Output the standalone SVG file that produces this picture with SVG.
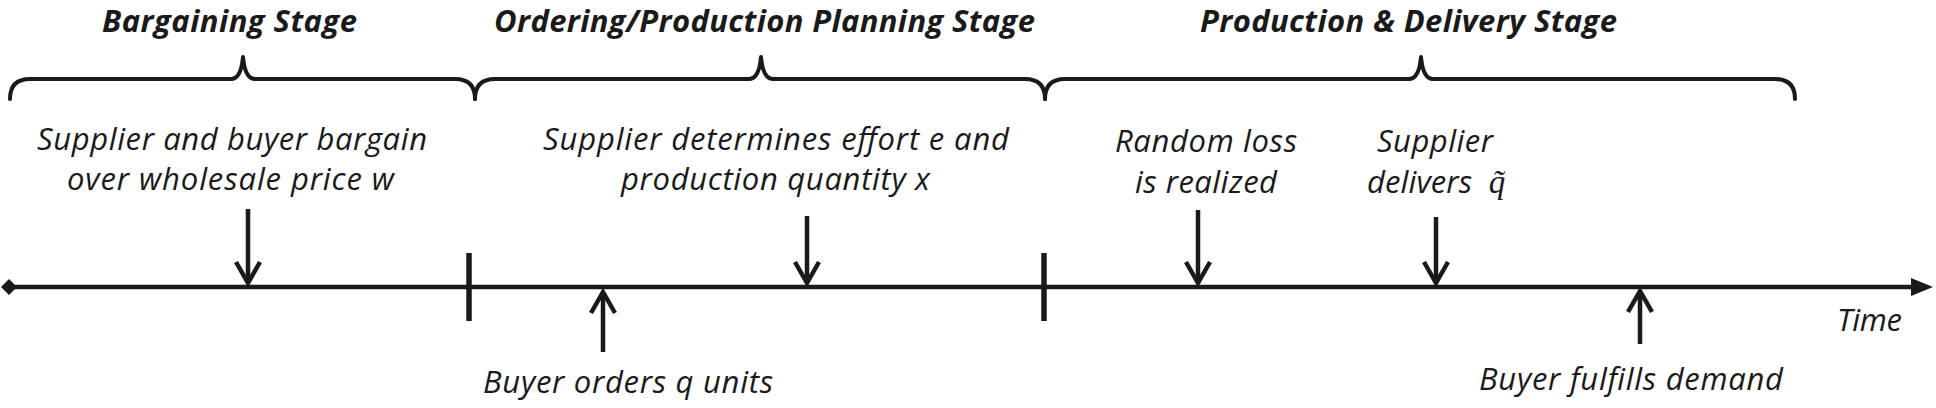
<svg xmlns="http://www.w3.org/2000/svg" width="1936" height="408" viewBox="0 0 1936 408">
<defs>
<style>
.t{font-family:"Open Sans",Lato,"Liberation Sans",sans-serif;font-style:italic;font-size:31px;fill:#1a1a1a}
.h{font-family:"Open Sans",Lato,"Liberation Sans",sans-serif;font-style:italic;font-weight:bold;font-size:31px;fill:#1a1a1a}
.br{fill:none;stroke:#1a1a1a;stroke-width:4;stroke-linecap:round;stroke-linejoin:round}
.ar{fill:none;stroke:#1a1a1a;stroke-width:4.5}
.tk{stroke:#1a1a1a;stroke-width:5.5}
</style>
<marker id="chev" markerUnits="userSpaceOnUse" markerWidth="40" markerHeight="40" viewBox="-30 -20 40 40" refX="0" refY="0" orient="auto">
<path d="M-21,-12 L0,0 L-21,12" fill="none" stroke="#1a1a1a" stroke-width="4.5"/>
</marker>
</defs>
<rect width="1936" height="408" fill="#ffffff"/>
<g id="stage-bargaining">
<text class="h" x="102" y="32" textLength="255" lengthAdjust="spacing">Bargaining Stage</text>
<path class="br" d="M10,99 Q10,79 30,79 L231,79 Q241,79 243,57 Q245,79 255,79 L455,79 Q475,79 475,99"/>
</g>
<g id="stage-ordering">
<text class="h" x="494" y="32" textLength="541" lengthAdjust="spacing">Ordering/Production Planning Stage</text>
<path class="br" d="M475,99 Q475,79 495,79 L749,79 Q759,79 761,57 Q763,79 773,79 L1025,79 Q1045,79 1045,99"/>
</g>
<g id="stage-delivery">
<text class="h" x="1200" y="32" textLength="417" lengthAdjust="spacing">Production &amp; Delivery Stage</text>
<path class="br" d="M1045,99 Q1045,79 1065,79 L1409,79 Q1419,79 1421,57 Q1423,79 1433,79 L1775,79 Q1795,79 1795,99"/>
</g>
<g id="timeline">
<line x1="10" y1="287" x2="1914" y2="287" stroke="#1a1a1a" stroke-width="4.5"/>
<polygon points="1,287 9,279 17,287 9,295" fill="#1a1a1a"/>
<polygon points="1911,278 1933,287 1911,296" fill="#1a1a1a"/>
<line class="tk" x1="469" y1="253" x2="469" y2="321"/>
<line class="tk" x1="1044" y1="253" x2="1044" y2="321"/>
<text class="t" x="1837" y="331" textLength="65" lengthAdjust="spacing">Time</text>
</g>
<g id="event-bargain">
<text class="t" x="37" y="150" textLength="390" lengthAdjust="spacing">Supplier and buyer bargain</text>
<text class="t" x="67" y="190" textLength="327" lengthAdjust="spacing">over wholesale price w</text>
</g>
<g id="event-effort">
<text class="t" x="543" y="150" textLength="466" lengthAdjust="spacing">Supplier determines effort e and</text>
<text class="t" x="621" y="190" textLength="309" lengthAdjust="spacing">production quantity x</text>
</g>
<g id="event-loss">
<text class="t" x="1115" y="152" textLength="182" lengthAdjust="spacing">Random loss</text>
<text class="t" x="1135" y="193" textLength="142" lengthAdjust="spacing">is realized</text>
</g>
<g id="event-deliver">
<text class="t" x="1377" y="152" textLength="116" lengthAdjust="spacing">Supplier</text>
<text class="t" x="1367" y="193" textLength="105" lengthAdjust="spacing">delivers</text>
<text x="1497" y="193" style="font-family:'Liberation Serif','DejaVu Serif',serif;font-style:italic;font-size:33px;fill:#1a1a1a;text-anchor:middle">q̃</text>
</g>
<g id="event-order">
<text class="t" x="483" y="393" textLength="290" lengthAdjust="spacing">Buyer orders q units</text>
</g>
<g id="event-fulfill">
<text class="t" x="1479" y="390" textLength="304" lengthAdjust="spacing">Buyer fulfills demand</text>
</g>
<g id="connectors">
<line class="ar" x1="248" y1="209" x2="248" y2="283" marker-end="url(#chev)"/>
<line class="ar" x1="807" y1="216" x2="807" y2="283" marker-end="url(#chev)"/>
<line class="ar" x1="1198" y1="210" x2="1198" y2="283" marker-end="url(#chev)"/>
<line class="ar" x1="1436" y1="217" x2="1436" y2="283" marker-end="url(#chev)"/>
<line class="ar" x1="603" y1="352" x2="603" y2="292" marker-end="url(#chev)"/>
<line class="ar" x1="1640" y1="344" x2="1640" y2="291" marker-end="url(#chev)"/>
</g>
</svg>
